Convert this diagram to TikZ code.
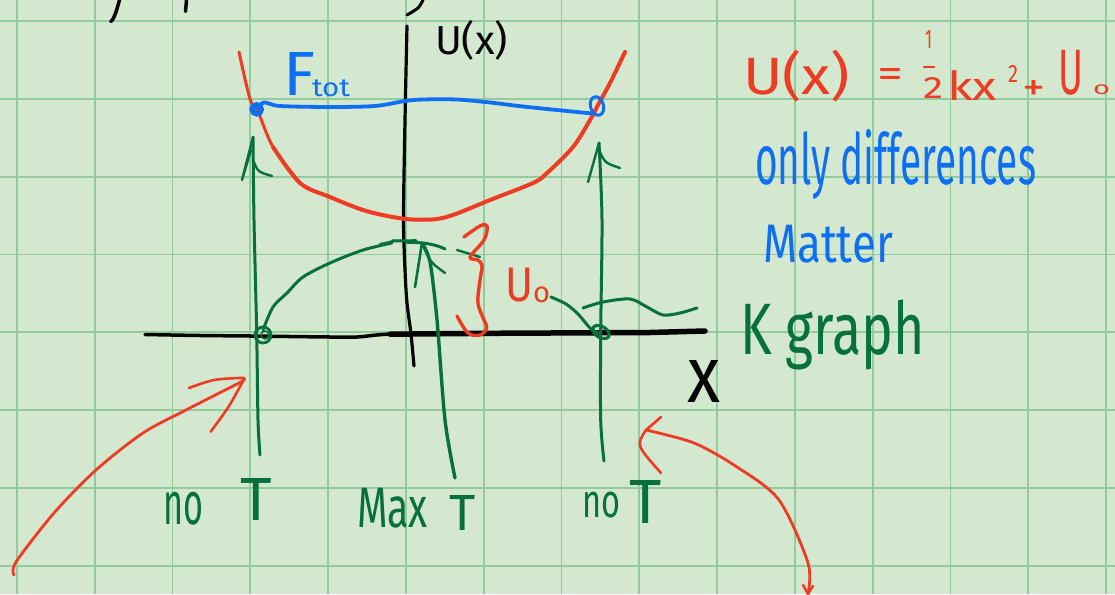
\documentclass[tikz,border=0pt]{standalone}
\usepackage{fontspec}
\setmainfont{Fira Sans}
\usepackage{graphicx}
\definecolor{paper}{HTML}{D3E8CE}
\definecolor{gridc}{HTML}{93CB9E}
\definecolor{hred}{HTML}{EE3B24}
\definecolor{hblue}{HTML}{0F6FF2}
\definecolor{hgreen}{HTML}{08703A}
\definecolor{hblack}{HTML}{050505}
\newcommand\bx[3]{\resizebox*{#1pt}{#2pt}{#3}}
\newcommand\bh[2]{\resizebox*{!}{#1pt}{#2}}
\begin{document}
\begin{tikzpicture}[x=1pt,y=-1pt,
  ink/.style={line cap=round,line join=round},
  gridl/.style={draw=gridc,line width=1.8pt},
  redink/.style={ink,draw=hred,line width=4pt},
  blueink/.style={ink,draw=hblue,line width=3.8pt},
  greenink/.style={ink,draw=hgreen,line width=3pt},
  blackink/.style={ink,draw=hblack,line width=3pt},
  lbl/.style={anchor=north west,inner sep=0pt,outer sep=0pt},
  lblc/.style={anchor=north,inner sep=0pt,outer sep=0pt}]
\useasboundingbox (0,0) rectangle (1115,594);
\fill[paper] (0,0) rectangle (1115,594);
\foreach \i in {0,...,14} \draw[gridl] ({16.8+77.8*\i},0) -- ({16.8+77.8*\i},594);
\foreach \j in {0,...,7} \draw[gridl] (0,{21+77.8*\j}) -- (1115,{21+77.8*\j});

% cut-off strokes at the top
\draw[blackink,line width=3.5pt] plot[smooth] coordinates {(119.5,0) (116,12) (113,19) (110.7,21.5)};
\draw[blackink,line width=3.5pt] (186.5,0) -- (185.5,11.5);
\draw[blackink,line width=3pt] plot[smooth] coordinates {(423,0) (418,8) (407,15)};

% axes
\draw[blackink,line width=3.2pt] plot[smooth] coordinates {(407,26) (405,120) (403.5,217) (405,270) (407,303) (411,334) (414,366)};
\draw[blackink,line width=3.5pt] plot[smooth] coordinates {(145,334.5) (200,335.5) (250,336) (330,337) (357,337) (393,334) (490,333.3)};
\draw[blackink,line width=5.5pt] (390,334.2) -- (490,333.3) -- (650,332.5) -- (705,331);
\node[lbl,text=hblack] (ulab) at (435,20) {\bx{73}{40}{U(x)}};
\node[lbl,text=hblack] (xlab) at (687,360) {\bx{33}{42}{x}};

% red potential curve
\draw[redink,line width=3pt] plot[smooth,tension=0.55] coordinates {(239,52) (250,99) (257,109) (273,147) (300,183)};
\draw[redink] plot[smooth,tension=0.55] coordinates {(273,147) (300,183) (330,197) (363,210) (390,216.5) (412,219.5) (437,219) (457,213.5) (490,200) (533,183) (547,173) (573,147) (590,120) (598,105) (610,83) (625,52)};

% blue total energy
\draw[blueink] plot[smooth] coordinates {(257,109) (264,102.5) (280,106) (330,107) (375,106) (405,101) (423,99.5) (457,99.5) (490,102.5) (523,106.5) (557,110) (592,113.5)};
\draw[hblue,line width=5.5pt] (256.7,109.3) circle (4.5);
\fill[hred] (256.5,110) circle (1.1);
\draw[blueink,line width=3pt,rotate around={15:(597,106)}] (597,106) ellipse (6.5 and 9.5);
\node[lbl,text=hblue] (flab) at (283,52) {\bx{32}{43}{F}};
\node[lbl,text=hblue] (tot) at (312,80) {\bx{38}{17}{tot}};

% green K curve
\draw[greenink] plot[smooth] coordinates {(263,330) (273,307) (287,293) (303,277) (330,263) (363,250) (392,243)};
\draw[greenink,line width=2pt] (380,244) -- (396,240.5);
\draw[greenink] (392,241) -- (416,240.7);
\draw[greenink] (407,242.5) .. controls (425,242) and (437,245) .. (445,249);
\draw[greenink,line width=2.4pt] (457,250) -- (480,257);
\draw[greenink] plot[smooth] coordinates {(551,297) (566,304) (578,314) (590,328) (598,333)};
\draw[greenink] plot[smooth] coordinates {(583,308) (603,302) (630,299) (647,307) (663,315) (680,313) (697,308)};
\draw[greenink,line width=2.8pt] (263,335) circle (8);
\draw[greenink,line width=1.6pt] (265,335) circle (4);
\draw[greenink,line width=3.2pt,rotate around={-30:(601,332)}] (601,332) ellipse (9 and 5.5);

% green vertical arrows
\coordinate (lt) at (253,137);
\coordinate (lb) at (260,455);
\draw[greenink] plot[smooth] coordinates {(lb) (258,420) (256.7,333) (254,220) (lt)};
\draw[greenink,line width=2.4pt] (lt) -- (242,180) -- (251,150);
\draw[greenink,line width=2.4pt] (253,160) .. controls (258,172) .. (272,176);

\coordinate (rt) at (599,143);
\coordinate (rb) at (604,461);
\draw[greenink] plot[smooth] coordinates {(rb) (600.7,420) (600.7,333) (602,220) (rt)};
\draw[greenink,line width=2.4pt] (rt) -- (588,182);
\draw[greenink,line width=2.4pt] (599,150) .. controls (605,163) .. (620,168);

\coordinate (mt) at (422,243);
\coordinate (mb) at (455,478);
\draw[greenink,line width=3.4pt] plot[smooth] coordinates {(mb) (445,420) (437,320) (430,262) (mt)};
\draw[greenink,line width=2.6pt] (mt) -- (415,287);
\draw[greenink,line width=2.4pt] (mt) .. controls (430,262) .. (445,273);

% red brace and U0
\draw[redink,line width=3.4pt] plot[smooth,tension=0.6] coordinates {(464,237) (480,226) (487,226) (484,240) (470,257) (478,260) (482,266) (480,280) (478,303) (484,320) (486.7,328) (480,335) (468,333) (457,316)};
\node[lbl,text=hred] (u0u) at (505,268) {\bx{28}{34}{U}};
\node[lbl,text=hred] (u0o) at (533,287) {\bx{17}{16}{o}};

% formula
\node[lbl,text=hred] (fu) at (743,50) {\bx{107}{52}{U(x)}};
\node[lbl,text=hred] (feq) at (877,68) {\bx{26}{19}{=}};
\node[lbl,text=hred] (fone) at (925,30) {\bx{7}{18}{1}};
\draw[hred,line width=2.5pt,line cap=round] (924,67) -- (934,67);
\node[lbl,text=hred] (ftwo) at (923,77) {\bx{20}{21}{2}};
\node[lbl,text=hred] (fkx) at (947,70) {\bx{50}{30}{kx}};
\node[lbl,text=hred] (fsq) at (1008,65) {\bx{10}{17}{2}};
\node[lbl,text=hred] (fplus) at (1022,80) {\bx{23}{20}{+}};
\node[lbl,text=hred] (fU) at (1058,50) {\bx{25}{45}{U}};
\node[lbl,text=hred] (fo) at (1093,85) {\bx{17}{10}{o}};

% blue notes
\node[lbl,text=hblue] (only) at (755,130) {\bx{281}{70}{only differences}};
\node[lbl,text=hblue] (matter) at (763,225) {\bx{130}{38}{Matter}};

% green notes
\node[lbl,text=hgreen] (kgraph) at (740,300) {\bx{185}{70}{K graph}};
\node[lbl,text=hgreen] (no1) at (163,492) {\bx{40}{33}{no}};
\node[lblc,text=hgreen] (t1) at (256.5,478) {\bh{42}{T}};
\node[lbl,text=hgreen] (max) at (357,488) {\bx{71}{40}{Max}};
\node[lblc,text=hgreen] (t2) at (462.5,495) {\bh{35}{T}};
\node[lbl,text=hgreen] (no2) at (582,492) {\bx{38}{26}{no}};
\node[lblc,text=hgreen] (t3) at (646,480) {\bh{43}{T}};

% red arrows
\coordinate (lh) at (243,381);
\draw[redink,line width=2.8pt] plot[smooth] coordinates {(14,575) (16,562) (54,513) (96,470) (143,433) (186,410) (lh)};
\draw[redink,line width=2.6pt] plot[smooth] coordinates {(189,388) (214,380) (243,378) (lh)};
\draw[redink,line width=2.6pt] plot[smooth] coordinates {(lh) (228.6,406.7) (210.7,431.7)};

\coordinate (ra) at (808,594);
\coordinate (rh) at (646,430);
\draw[redink,line width=2.8pt] plot[smooth] coordinates {(ra) (808,563) (779,500) (737,467) (694,443) (rh)};
\draw[redink,line width=2.6pt] (rh) -- (661,417);
\draw[redink,line width=2.6pt] (rh) .. controls (636,445) .. (661,473);
\draw[redink,line width=2.4pt] (803,585) -- (808,594) -- (813,586);
\end{tikzpicture}
\end{document}
